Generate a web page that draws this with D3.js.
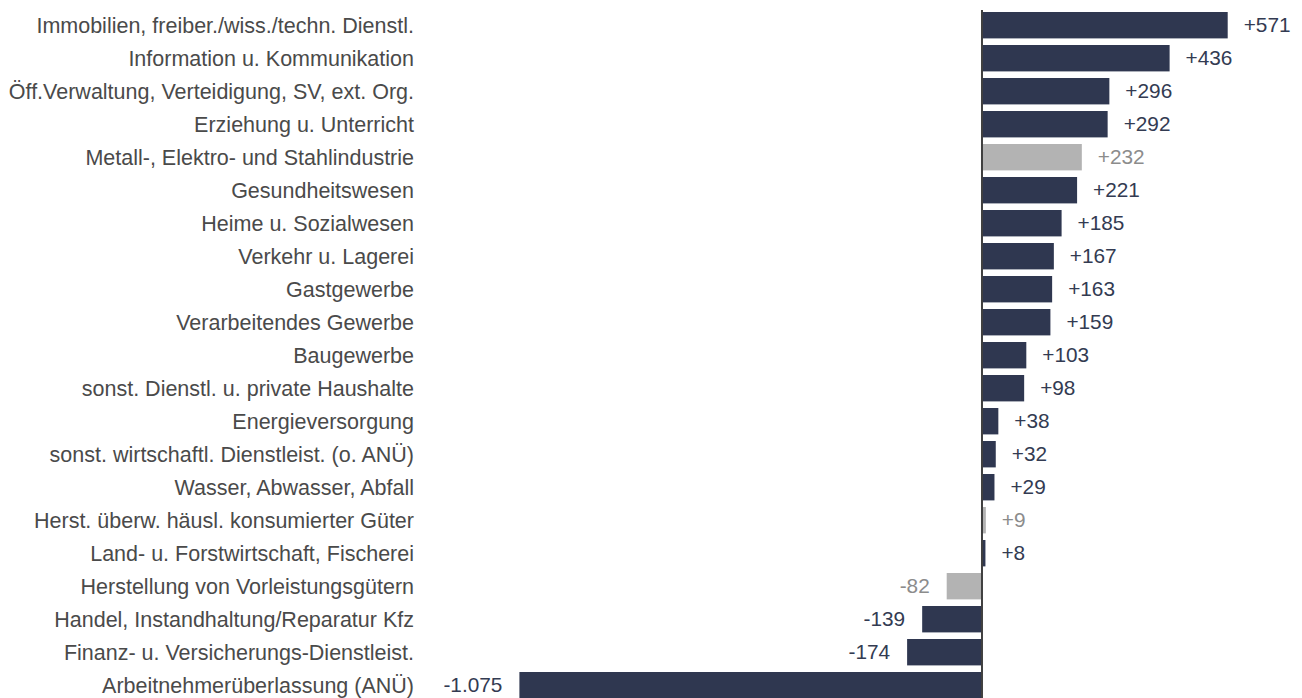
<!DOCTYPE html>
<html><head><meta charset="utf-8">
<script src="https://cdn.jsdelivr.net/npm/d3@7"></script>
<style>body{margin:0;background:#fff;}svg{display:block;}</style>
</head><body>
<svg id="c" width="1302" height="698"></svg>
<script>
const categories = [
  "Immobilien, freiber./wiss./techn. Dienstl.",
  "Information u. Kommunikation",
  "Öff.Verwaltung, Verteidigung, SV, ext. Org.",
  "Erziehung u. Unterricht",
  "Metall-, Elektro- und Stahlindustrie",
  "Gesundheitswesen",
  "Heime u. Sozialwesen",
  "Verkehr u. Lagerei",
  "Gastgewerbe",
  "Verarbeitendes Gewerbe",
  "Baugewerbe",
  "sonst. Dienstl. u. private Haushalte",
  "Energieversorgung",
  "sonst. wirtschaftl. Dienstleist. (o. ANÜ)",
  "Wasser, Abwasser, Abfall",
  "Herst. überw. häusl. konsumierter Güter",
  "Land- u. Forstwirtschaft, Fischerei",
  "Herstellung von Vorleistungsgütern",
  "Handel, Instandhaltung/Reparatur Kfz",
  "Finanz- u. Versicherungs-Dienstleist.",
  "Arbeitnehmerüberlassung (ANÜ)"
];
const values = [571, 436, 296, 292, 232, 221, 185, 167, 163, 159, 103, 98, 38, 32, 29, 9, 8, -82, -139, -174, -1075];
// sub-sectors of manufacturing shown in grey
const subSectors = [
  "Metall-, Elektro- und Stahlindustrie",
  "Herst. überw. häusl. konsumierter Güter",
  "Herstellung von Vorleistungsgütern"
];

const data = categories.map((c, i) => ({cat: c, val: values[i], sub: subSectors.includes(c)}));

const svg = d3.select("#c");
const font = "'Liberation Sans', Arial, sans-serif";
const x = d3.scaleLinear().domain([-1075, 571]).range([519.4, 1227.7]);
const y = d3.scaleBand().domain(categories).range([8.7, 701.7]).paddingInner(0.2).paddingOuter(0.1);

const dark = "#2f3750", grey = "#b3b3b3";
const fmt = v => (v > 0 ? "+" : v < 0 ? "-" : "") + d3.format(",")(Math.abs(v)).replace(/,/g, ".");

svg.selectAll("rect.bar").data(data).join("rect")
  .attr("class", "bar")
  .attr("x", d => x(Math.min(0, d.val)))
  .attr("width", d => Math.abs(x(d.val) - x(0)))
  .attr("y", d => y(d.cat))
  .attr("height", y.bandwidth())
  .attr("fill", d => d.sub ? grey : dark);

// zero axis line
svg.append("line")
  .attr("x1", x(0)).attr("x2", x(0))
  .attr("y1", 10).attr("y2", 698)
  .attr("stroke", "#404040").attr("stroke-width", 2);

// category labels
svg.selectAll("text.cat").data(data).join("text")
  .attr("class", "cat")
  .attr("x", 414)
  .attr("y", d => y(d.cat) + y.bandwidth() / 2)
  .attr("dy", "0.34em")
  .attr("text-anchor", "end")
  .attr("font-family", font).attr("font-size", 21.5)
  .attr("fill", "#4a4a4a")
  .text(d => d.cat);

// value labels
svg.selectAll("text.val").data(data).join("text")
  .attr("class", "val")
  .attr("x", d => d.val >= 0 ? x(d.val) + 16 : x(d.val) - 17)
  .attr("y", d => y(d.cat) + y.bandwidth() / 2)
  .attr("dy", "0.34em")
  .attr("text-anchor", d => d.val >= 0 ? "start" : "end")
  .attr("font-family", font).attr("font-size", 20.8)
  .attr("fill", d => d.sub ? "#8c8c8c" : "#333b52")
  .text(d => fmt(d.val));
</script>
</body></html>
